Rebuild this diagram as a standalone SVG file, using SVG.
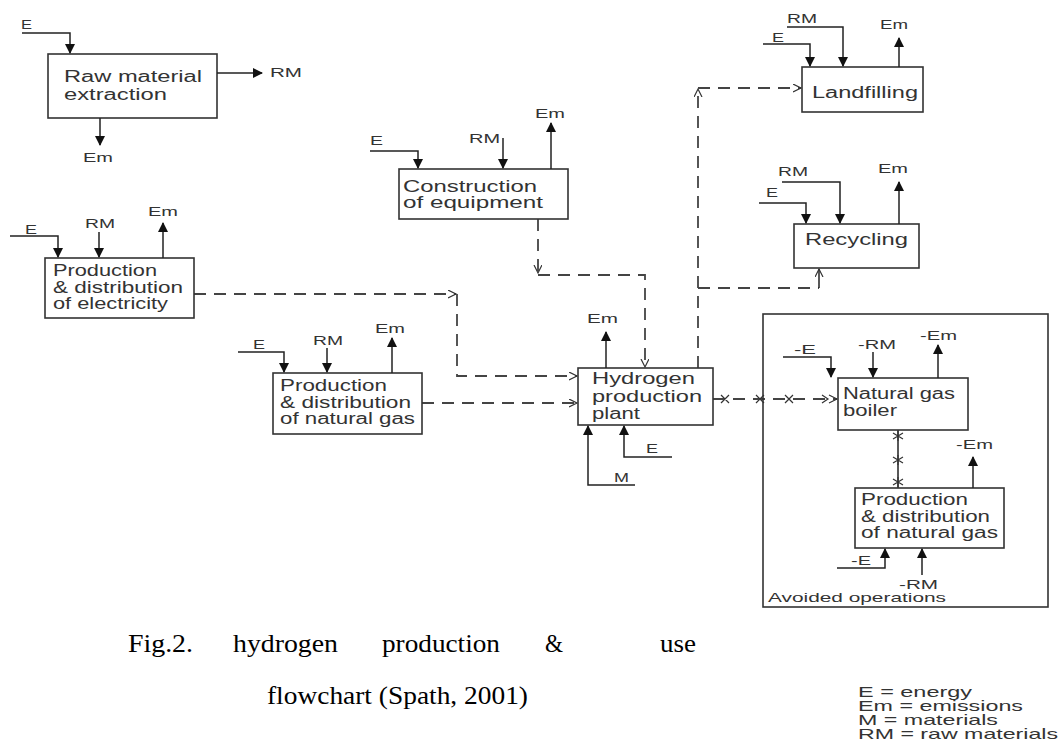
<svg xmlns="http://www.w3.org/2000/svg" width="1061" height="751" viewBox="0 0 1061 751">
<style>
.box{fill:#fff;stroke:#333;stroke-width:1.6}
.ln{fill:none;stroke:#222;stroke-width:1.5}
.dash{fill:none;stroke:#444;stroke-width:1.8;stroke-dasharray:12 8}
.t{font-family:"Liberation Sans",Arial,sans-serif;font-size:16px;fill:#333}
.s{font-family:"Liberation Sans",Arial,sans-serif;font-size:13px;fill:#333}
.cap{font-family:"Liberation Serif","Times New Roman",serif;font-size:25px;fill:#000}
.lg{font-family:"Liberation Sans",Arial,sans-serif;font-size:14.5px;fill:#333}
.mk{fill:none;stroke:#333;stroke-width:1.2}
</style>
<defs>
<marker id="ah" markerWidth="10" markerHeight="10" refX="9" refY="5" orient="auto" markerUnits="userSpaceOnUse"><path d="M0,0 L10,5 L0,10 z" fill="#111"/></marker>
<marker id="oh" markerWidth="10" markerHeight="10" refX="8" refY="4" orient="auto" markerUnits="userSpaceOnUse"><path d="M0,0 L8,4 L0,8" fill="none" stroke="#333" stroke-width="1.2"/></marker>
</defs>

<g id="connectors">
<path class="dash" d="M194,294 H456" marker-end="url(#oh)"/>
<path class="dash" d="M457,294 V376 H577" marker-end="url(#oh)"/>
<path class="dash" d="M422,403 H577" marker-end="url(#oh)"/>
<path class="dash" d="M538,219 V273" marker-end="url(#oh)"/>
<path class="dash" d="M538,275 H645 V367" marker-end="url(#oh)"/>
<path class="dash" d="M698,368 V89" marker-end="url(#oh)"/>
<path class="dash" d="M698,88 H801" marker-end="url(#oh)"/>
<path class="dash" d="M698,288 H819"/>
<path class="ln" d="M819,288 V269" stroke-width="1.2" marker-end="url(#oh)"/>
<path class="dash" d="M713,399 H837" stroke-dasharray="10 8"/>
<path class="mk" d="M721,395 l8,8 M721,403 l8,-8 M756,395 l8,8 M756,403 l8,-8 M785,395 l8,8 M785,403 l8,-8 M822,395 l6,4 l-6,4 M829,395 l8,4 l-8,4"/>
<path class="ln" d="M898,430 V488"/>
<path class="mk" d="M898,431 v10 M893,433 l10,6 M893,439 l10,-6 M898,455 v10 M893,457 l10,6 M893,463 l10,-6 M898,477 v10 M893,479 l10,6 M893,485 l10,-6"/>
</g>

<g id="raw-material-extraction">
<rect class="box" x="48" y="54" width="169" height="64"/>
<text class="t" x="64" y="82" textLength="138" lengthAdjust="spacingAndGlyphs">Raw material</text>
<text class="t" x="64" y="100" textLength="103" lengthAdjust="spacingAndGlyphs">extraction</text>
<path class="ln" d="M22,33 H70 V53" marker-end="url(#ah)"/>
<text class="s" x="21" y="29" textLength="11" lengthAdjust="spacingAndGlyphs">E</text>
<path class="ln" d="M217,73 H262" marker-end="url(#ah)"/>
<text class="s" x="270" y="77" textLength="32" lengthAdjust="spacingAndGlyphs">RM</text>
<path class="ln" d="M100,118 V145" marker-end="url(#ah)"/>
<text class="s" x="83" y="162" textLength="30" lengthAdjust="spacingAndGlyphs">Em</text>
</g>

<g id="electricity">
<rect class="box" x="45" y="258" width="149" height="60"/>
<text class="t" x="53" y="276" textLength="104" lengthAdjust="spacingAndGlyphs">Production</text>
<text class="t" x="53" y="293" textLength="130" lengthAdjust="spacingAndGlyphs">&amp; distribution</text>
<text class="t" x="53" y="309" textLength="115" lengthAdjust="spacingAndGlyphs">of electricity</text>
<path class="ln" d="M10,236 H58 V257" marker-end="url(#ah)"/>
<text class="s" x="25" y="234" textLength="12" lengthAdjust="spacingAndGlyphs">E</text>
<path class="ln" d="M99,232 V257" marker-end="url(#ah)"/>
<text class="s" x="85" y="228" textLength="30" lengthAdjust="spacingAndGlyphs">RM</text>
<path class="ln" d="M163,258 V223" marker-end="url(#ah)"/>
<text class="s" x="148" y="216" textLength="30" lengthAdjust="spacingAndGlyphs">Em</text>
</g>

<g id="construction">
<rect class="box" x="399" y="169" width="169" height="50"/>
<text class="t" x="403" y="192" textLength="134" lengthAdjust="spacingAndGlyphs">Construction</text>
<text class="t" x="403" y="208" textLength="140" lengthAdjust="spacingAndGlyphs">of equipment</text>
<path class="ln" d="M370,151 H418 V168" marker-end="url(#ah)"/>
<text class="s" x="370" y="145" textLength="13" lengthAdjust="spacingAndGlyphs">E</text>
<path class="ln" d="M503,138 V168" marker-end="url(#ah)"/>
<text class="s" x="469" y="143" textLength="31" lengthAdjust="spacingAndGlyphs">RM</text>
<path class="ln" d="M551,169 V123" marker-end="url(#ah)"/>
<text class="s" x="535" y="118" textLength="30" lengthAdjust="spacingAndGlyphs">Em</text>
</g>

<g id="landfilling">
<rect class="box" x="802" y="67" width="121" height="45"/>
<text class="t" x="812" y="98" textLength="106" lengthAdjust="spacingAndGlyphs">Landfilling</text>
<path class="ln" d="M763,44 H810 V66" marker-end="url(#ah)"/>
<text class="s" x="772" y="42" textLength="12" lengthAdjust="spacingAndGlyphs">E</text>
<path class="ln" d="M787,27 H843 V66" marker-end="url(#ah)"/>
<text class="s" x="787" y="23" textLength="30" lengthAdjust="spacingAndGlyphs">RM</text>
<path class="ln" d="M899,67 V38" marker-end="url(#ah)"/>
<text class="s" x="880" y="29" textLength="28" lengthAdjust="spacingAndGlyphs">Em</text>
</g>

<g id="recycling">
<rect class="box" x="794" y="224" width="125" height="44"/>
<text class="t" x="805" y="245" textLength="103" lengthAdjust="spacingAndGlyphs">Recycling</text>
<path class="ln" d="M759,203 H806 V223" marker-end="url(#ah)"/>
<text class="s" x="766" y="197" textLength="12" lengthAdjust="spacingAndGlyphs">E</text>
<path class="ln" d="M782,182 H840 V223" marker-end="url(#ah)"/>
<text class="s" x="778" y="176" textLength="30" lengthAdjust="spacingAndGlyphs">RM</text>
<path class="ln" d="M899,224 V182" marker-end="url(#ah)"/>
<text class="s" x="878" y="173" textLength="30" lengthAdjust="spacingAndGlyphs">Em</text>
</g>

<g id="natural-gas">
<rect class="box" x="273" y="373" width="149" height="61"/>
<text class="t" x="280" y="391" textLength="107" lengthAdjust="spacingAndGlyphs">Production</text>
<text class="t" x="280" y="408" textLength="131" lengthAdjust="spacingAndGlyphs">&amp; distribution</text>
<text class="t" x="280" y="424" textLength="135" lengthAdjust="spacingAndGlyphs">of natural gas</text>
<path class="ln" d="M238,352 H284 V372" marker-end="url(#ah)"/>
<text class="s" x="253" y="349" textLength="12" lengthAdjust="spacingAndGlyphs">E</text>
<path class="ln" d="M327,348 V372" marker-end="url(#ah)"/>
<text class="s" x="313" y="345" textLength="30" lengthAdjust="spacingAndGlyphs">RM</text>
<path class="ln" d="M392,373 V338" marker-end="url(#ah)"/>
<text class="s" x="375" y="333" textLength="30" lengthAdjust="spacingAndGlyphs">Em</text>
</g>

<g id="hydrogen-plant">
<rect class="box" x="578" y="368" width="135" height="57"/>
<text class="t" x="592" y="384" textLength="103" lengthAdjust="spacingAndGlyphs">Hydrogen</text>
<text class="t" x="592" y="402" textLength="110" lengthAdjust="spacingAndGlyphs">production</text>
<text class="t" x="592" y="419" textLength="48" lengthAdjust="spacingAndGlyphs">plant</text>
<path class="ln" d="M606,368 V332" marker-end="url(#ah)"/>
<text class="s" x="587" y="323" textLength="31" lengthAdjust="spacingAndGlyphs">Em</text>
<path class="ln" d="M635,485 H588 V426" marker-end="url(#ah)"/>
<text class="s" x="614" y="482" textLength="15" lengthAdjust="spacingAndGlyphs">M</text>
<path class="ln" d="M672,457 H624 V426" marker-end="url(#ah)"/>
<text class="s" x="646" y="453" textLength="12" lengthAdjust="spacingAndGlyphs">E</text>
</g>

<g id="avoided-operations">
<rect x="763" y="314" width="285" height="293" fill="none" stroke="#333" stroke-width="1.6"/>
<text class="s" x="768" y="602" font-size="12" textLength="178" lengthAdjust="spacingAndGlyphs">Avoided operations</text>
</g>

<g id="natural-gas-boiler">
<rect class="box" x="838" y="378" width="130" height="52"/>
<text class="t" x="843" y="399" textLength="112" lengthAdjust="spacingAndGlyphs">Natural gas</text>
<text class="t" x="843" y="416" textLength="54" lengthAdjust="spacingAndGlyphs">boiler</text>
<path class="ln" d="M783,357 H831 V377" marker-end="url(#ah)"/>
<text class="s" x="794" y="354" textLength="22" lengthAdjust="spacingAndGlyphs">-E</text>
<path class="ln" d="M873,352 V377" marker-end="url(#ah)"/>
<text class="s" x="858" y="349" textLength="38" lengthAdjust="spacingAndGlyphs">-RM</text>
<path class="ln" d="M938,378 V345" marker-end="url(#ah)"/>
<text class="s" x="920" y="340" textLength="37" lengthAdjust="spacingAndGlyphs">-Em</text>
</g>

<g id="natural-gas-avoided">
<rect class="box" x="855" y="488" width="149" height="60"/>
<text class="t" x="861" y="505" textLength="107" lengthAdjust="spacingAndGlyphs">Production</text>
<text class="t" x="861" y="522" textLength="129" lengthAdjust="spacingAndGlyphs">&amp; distribution</text>
<text class="t" x="861" y="538" textLength="137" lengthAdjust="spacingAndGlyphs">of natural gas</text>
<path class="ln" d="M973,488 V457" marker-end="url(#ah)"/>
<text class="s" x="956" y="449" textLength="37" lengthAdjust="spacingAndGlyphs">-Em</text>
<path class="ln" d="M837,568 H885 V549" marker-end="url(#ah)"/>
<text class="s" x="851" y="565" textLength="20" lengthAdjust="spacingAndGlyphs">-E</text>
<path class="ln" d="M922,575 V549" marker-end="url(#ah)"/>
<text class="s" x="899" y="589" textLength="39" lengthAdjust="spacingAndGlyphs">-RM</text>
</g>

<g id="caption">
<text class="cap" x="128" y="652" textLength="65" lengthAdjust="spacingAndGlyphs">Fig.2.</text>
<text class="cap" x="233" y="652" textLength="105" lengthAdjust="spacingAndGlyphs">hydrogen</text>
<text class="cap" x="382" y="652" textLength="118" lengthAdjust="spacingAndGlyphs">production</text>
<text class="cap" x="545" y="652" textLength="18" lengthAdjust="spacingAndGlyphs">&amp;</text>
<text class="cap" x="660" y="652" textLength="36" lengthAdjust="spacingAndGlyphs">use</text>
<text class="cap" x="267" y="704" textLength="261" lengthAdjust="spacingAndGlyphs">flowchart (Spath, 2001)</text>
</g>

<g id="legend">
<text class="lg" x="858" y="697" textLength="114" lengthAdjust="spacingAndGlyphs">E = energy</text>
<text class="lg" x="858" y="711" textLength="165" lengthAdjust="spacingAndGlyphs">Em = emissions</text>
<text class="lg" x="858" y="725" textLength="140" lengthAdjust="spacingAndGlyphs">M = materials</text>
<text class="lg" x="858" y="739" textLength="200" lengthAdjust="spacingAndGlyphs">RM = raw materials</text>
</g>
</svg>
